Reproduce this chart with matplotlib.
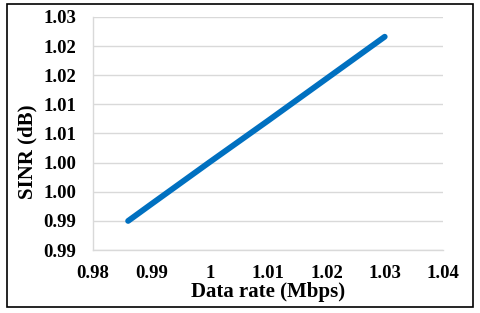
import matplotlib
matplotlib.use("Agg")
import matplotlib.pyplot as plt
from matplotlib.patches import Rectangle

# data
rate = [0.986, 0.990, 1.000, 1.010, 1.020, 1.030]
sinr = [0.9900, 0.9929, 1.0001, 1.0072, 1.0144, 1.0216]

xticks = [0.98, 0.99, 1.00, 1.01, 1.02, 1.03, 1.04]
xlabels = ["0.98", "0.99", "1", "1.01", "1.02", "1.03", "1.04"]
yticks = [0.985, 0.990, 0.995, 1.000, 1.005, 1.010, 1.015, 1.020, 1.025]
ylabels = ["0.99", "0.99", "1.00", "1.00", "1.01", "1.01", "1.02", "1.02", "1.03"]

BLUE, GRID, INK = "#0070c0", "#d9d9d9", "#000000"

plt.rcParams.update({"font.family": ["Liberation Serif", "DejaVu Serif"],
                     "font.weight": "bold"})

fig = plt.figure(figsize=(4.8, 3.13), dpi=100, facecolor="white")
ax = fig.add_axes([0.194, 0.201, 0.729, 0.745])

ax.plot(rate, sinr, color=BLUE, lw=4.2, solid_capstyle="round")

ax.set_xlim(0.98, 1.04)
ax.set_ylim(0.985, 1.025)
ax.set_xticks(xticks)
ax.set_xticklabels(xlabels, fontsize=13.5, fontweight="bold")
ax.set_yticks(yticks)
ax.set_yticklabels(ylabels, fontsize=13.5, fontweight="bold")
ax.tick_params(axis="y", length=0, pad=12)
ax.tick_params(axis="x", length=0, pad=11)
ax.grid(axis="y", color=GRID, lw=1)
ax.set_axisbelow(True)
for s in ("top", "right"):
    ax.spines[s].set_visible(False)
for s in ("left", "bottom"):
    ax.spines[s].set_color(GRID)
    ax.spines[s].set_linewidth(1)

ax.set_xlabel("Data rate (Mbps)", fontsize=15, fontweight="bold", labelpad=0)
ax.set_ylabel("SINR (dB)", fontsize=15, fontweight="bold")
ax.yaxis.set_label_coords(-0.158, 0.42)

# outer frame around the chart
fig.patches.append(Rectangle((0.015, 0.019), 0.97, 0.968, transform=fig.transFigure,
                             fill=False, edgecolor=INK, lw=1.2))

fig.savefig("out.png", dpi=100, facecolor="white")
